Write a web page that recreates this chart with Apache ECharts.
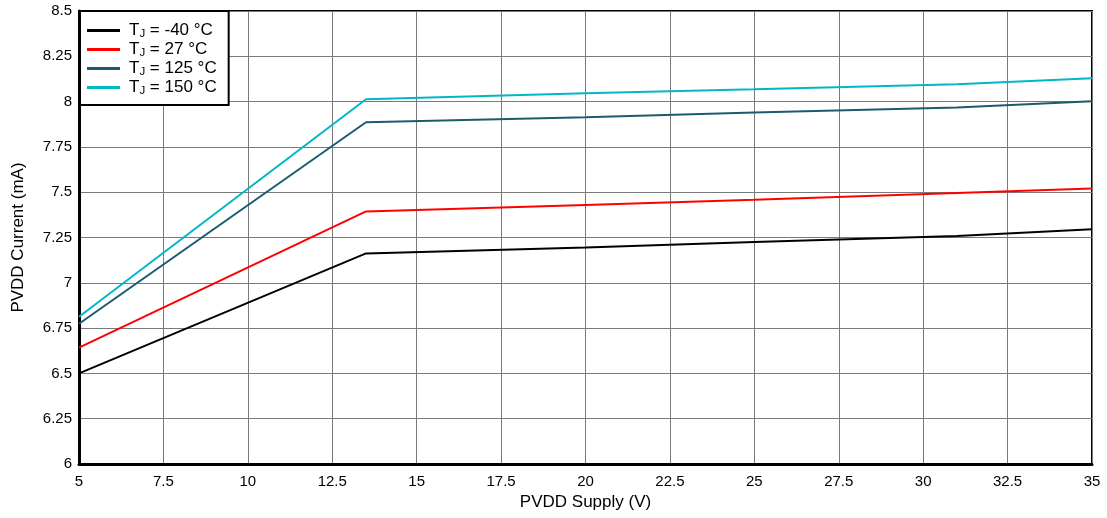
<!DOCTYPE html>
<html>
<head>
<meta charset="utf-8">
<script src="https://cdn.jsdelivr.net/npm/echarts@6/dist/echarts.min.js"></script>
<style>
  html, body { margin: 0; padding: 0; background: #fff; }
  #chart { width: 1107px; height: 518px; }
</style>
</head>
<body>
<div id="chart"></div>
<script>
// PVDD supply voltage points (V)
const supplyV = [5, 13.5, 20, 25, 31, 35];
// PVDD current (mA) for each junction temperature
const curM40 = [6.50, 7.162, 7.195, 7.225, 7.258, 7.295];
const cur27 = [6.642, 7.394, 7.43, 7.458, 7.495, 7.521];
const cur125 = [6.774, 7.886, 7.914, 7.940, 7.968, 8.002];
const cur150 = [6.813, 8.013, 8.046, 8.068, 8.096, 8.129];
const seriesNames = ['-40 °C', '27 °C', '125 °C', '150 °C'];
const seriesColors = ['#000000', '#ff0000', '#1a5b6f', '#00b7c8'];
const xTicks = { min: 5, max: 35, step: 2.5 };
const yTicks = { min: 6, max: 8.5, step: 0.25 };

const allCurrents = [curM40, cur27, cur125, cur150];
const font = 'Liberation Sans, Arial, sans-serif';

const chart = echarts.init(document.getElementById('chart'), null, { renderer: 'canvas' });

const series = allCurrents.map((vals, i) => ({
  name: seriesNames[i],
  type: 'line',
  data: supplyV.map((v, k) => [v, vals[k]]),
  showSymbol: false,
  symbol: 'none',
  lineStyle: { color: seriesColors[i], width: 2 },
  itemStyle: { color: seriesColors[i] },
  z: 5
}));

chart.setOption({
  animation: false,
  backgroundColor: '#fff',
  grid: {
    left: 79, right: 15, top: 11, bottom: 54,
    outerBoundsMode: 'none',
    containLabel: false,
    show: true, borderColor: '#000', borderWidth: 2
  },
  legend: {
    left: 80, top: 11,
    orient: 'vertical',
    backgroundColor: '#fff',
    borderColor: '#000',
    borderWidth: 2,
    borderRadius: 0,
    padding: [10, 12, 8, 7],
    itemGap: 0,
    itemWidth: 33,
    itemHeight: 3,
    icon: 'rect',
    data: seriesNames,
    formatter: name => '{t0|T}{s|J}{t| = ' + name + '}',
    textStyle: {
      fontFamily: font,
      color: '#000',
      rich: {
        t0: { fontSize: 17, fontFamily: font, color: '#000', lineHeight: 17, padding: [0, 0, 0, 4] },
        t: { fontSize: 17, fontFamily: font, color: '#000', lineHeight: 17 },
        // subscript: pushed down inside a box of the same total height
        s: { fontSize: 11.5, fontFamily: font, color: '#000', lineHeight: 10, padding: [7, 0, 0, 0] }
      }
    }
  },
  xAxis: {
    type: 'value',
    min: xTicks.min, max: xTicks.max, interval: xTicks.step,
    name: 'PVDD Supply (V)',
    nameLocation: 'middle',
    nameGap: 30,
    nameTextStyle: { fontFamily: font, fontSize: 17, color: '#000' },
    axisLine: { show: true, lineStyle: { color: '#000', width: 3 } },
    axisTick: { show: false },
    axisLabel: { fontFamily: font, fontSize: 15, color: '#000', margin: 10 },
    splitLine: { show: true, lineStyle: { color: '#7a7a7a', width: 1 } }
  },
  yAxis: {
    type: 'value',
    min: yTicks.min, max: yTicks.max, interval: yTicks.step,
    name: 'PVDD Current (mA)',
    nameLocation: 'middle',
    nameGap: 52,
    nameTextStyle: { fontFamily: font, fontSize: 17, color: '#000' },
    axisLine: { show: true, lineStyle: { color: '#000', width: 3 } },
    axisTick: { show: false },
    axisLabel: { fontFamily: font, fontSize: 15, color: '#000', margin: 7 },
    splitLine: { show: true, lineStyle: { color: '#7a7a7a', width: 1 } }
  },
  series: series
});
</script>
</body>
</html>
